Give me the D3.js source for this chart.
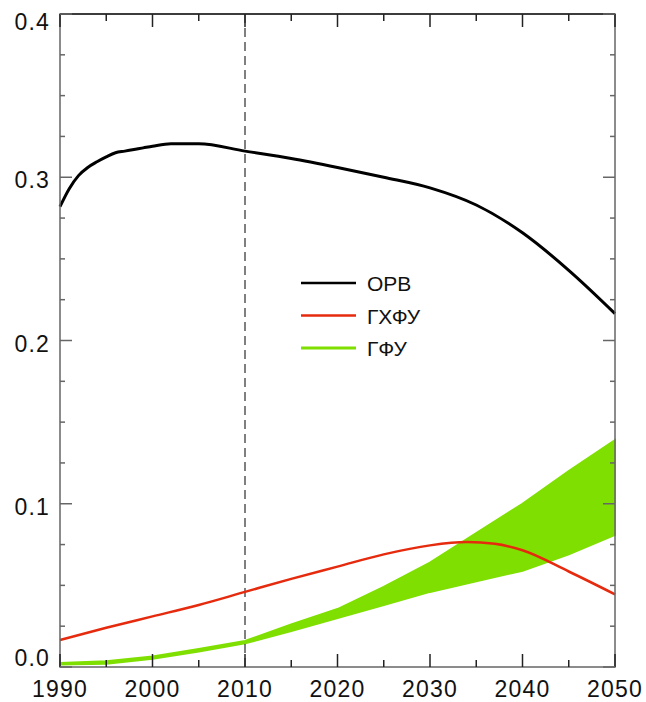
<!DOCTYPE html>
<html>
<head>
<meta charset="utf-8">
<script src="https://cdn.jsdelivr.net/npm/d3@7"></script>
<style>
  body { margin: 0; background: #fff; }
  text { font-family: "Liberation Sans", Arial, sans-serif; }
</style>
</head>
<body>
<svg id="chart" width="646" height="702"></svg>
<script>
// years + values
var orvYears = [1990, 1991, 1992, 1993, 1994, 1995, 1996, 1997, 1998, 1999, 2000, 2002, 2005, 2010, 2015, 2020, 2025, 2030, 2035, 2040, 2045, 2050];
var orvVals  = [0.282, 0.293, 0.301, 0.306, 0.3095, 0.3125, 0.315, 0.316, 0.317, 0.318, 0.319, 0.3205, 0.3205, 0.316, 0.3115, 0.306, 0.300, 0.2935, 0.283, 0.266, 0.243, 0.2165];

var hcfcYears = [1990, 1995, 2000, 2005, 2010, 2015, 2020, 2025, 2030, 2034, 2037, 2040, 2045, 2050];
var hcfcVals  = [0.0165, 0.024, 0.031, 0.038, 0.046, 0.054, 0.0615, 0.069, 0.0745, 0.0765, 0.0755, 0.0715, 0.0585, 0.0445];

var hfcYears = [1990, 1995, 2000, 2005, 2010, 2015, 2020, 2025, 2030, 2035, 2040, 2045, 2050];
var hfcLow   = [0.0015, 0.002, 0.005, 0.0095, 0.0145, 0.022, 0.030, 0.038, 0.046, 0.0525, 0.059, 0.069, 0.081];
var hfcHigh  = [0.0025, 0.0035, 0.0065, 0.011, 0.016, 0.026, 0.0355, 0.049, 0.064, 0.082, 0.100, 0.120, 0.139];

var xTicks = [1990, 2000, 2010, 2020, 2030, 2040, 2050];
var yTicks = [0.0, 0.1, 0.2, 0.3, 0.4];
var legendNames = ["ОРВ", "ГХФУ", "ГФУ"];
var colors = ["#000000", "#e62a0e", "#7fdf00"];

// plot box (note: "top" is reserved on window, so prefixed names)
var pLeft = 60, pRight = 615, pTop = 14, pBottom = 667;

var x = d3.scaleLinear().domain([1990, 2050]).range([pLeft, pRight]);
var y = d3.scaleLinear().domain([0, 0.4]).range([pBottom, pTop]);

var svg = d3.select("#chart");

// green band
var band = hfcYears.map(function(yr, i) { return { yr: yr, lo: hfcLow[i], hi: hfcHigh[i] }; });
svg.append("path")
  .datum(band)
  .attr("fill", colors[2])
  .attr("stroke", colors[2])
  .attr("stroke-width", 2)
  .attr("d", d3.area()
    .x(function(d) { return x(d.yr); })
    .y0(function(d) { return y(d.lo); })
    .y1(function(d) { return y(d.hi); }));

// dashed line at 2010
svg.append("line")
  .attr("x1", x(2010)).attr("x2", x(2010))
  .attr("y1", pTop).attr("y2", pBottom)
  .attr("stroke", "#000").attr("stroke-width", 1)
  .attr("stroke-dasharray", "9,5");

var line = d3.line()
  .x(function(d) { return x(d[0]); })
  .y(function(d) { return y(d[1]); })
  .curve(d3.curveMonotoneX);

svg.append("path")
  .datum(hcfcYears.map(function(yr, i) { return [yr, hcfcVals[i]]; }))
  .attr("fill", "none").attr("stroke", colors[1]).attr("stroke-width", 2.5)
  .attr("d", line);

svg.append("path")
  .datum(orvYears.map(function(yr, i) { return [yr, orvVals[i]]; }))
  .attr("fill", "none").attr("stroke", colors[0]).attr("stroke-width", 3)
  .attr("d", line);

// frame
var axisCol = "#666";
svg.append("rect")
  .attr("x", pLeft).attr("y", pTop)
  .attr("width", pRight - pLeft).attr("height", pBottom - pTop)
  .attr("fill", "none").attr("stroke", axisCol).attr("stroke-width", 1.5);
svg.append("line").attr("x1", pLeft).attr("x2", pRight).attr("y1", pTop).attr("y2", pTop)
  .attr("stroke", "#222").attr("stroke-width", 1.5);

// x ticks (major every 10, minor every 5), mirrored on top
d3.range(1990, 2051, 5).forEach(function(yr) {
  var len = (yr % 10 === 0) ? 13 : 7;
  svg.append("line").attr("x1", x(yr)).attr("x2", x(yr))
    .attr("y1", pBottom).attr("y2", pBottom - len)
    .attr("stroke", "#222").attr("stroke-width", 1.5);
  svg.append("line").attr("x1", x(yr)).attr("x2", x(yr))
    .attr("y1", pTop).attr("y2", pTop + len)
    .attr("stroke", "#222").attr("stroke-width", 1.5);
});

// y ticks (major every 0.1, minor every 0.025), mirrored on right
d3.range(0, 17).forEach(function(k) {
  var v = k * 0.025;
  var len = (k % 4 === 0) ? 12 : 5;
  svg.append("line").attr("x1", pLeft).attr("x2", pLeft + len)
    .attr("y1", y(v)).attr("y2", y(v))
    .attr("stroke", axisCol).attr("stroke-width", 1.5);
  svg.append("line").attr("x1", pRight).attr("x2", pRight - len)
    .attr("y1", y(v)).attr("y2", y(v))
    .attr("stroke", axisCol).attr("stroke-width", 1.5);
});

// labels
svg.selectAll(".xlab").data(xTicks).enter().append("text")
  .attr("x", function(d) { return x(d); })
  .attr("y", 697)
  .attr("text-anchor", "middle")
  .attr("font-size", 23).attr("letter-spacing", 1.2)
  .attr("fill", "#111")
  .text(function(d) { return d; });

svg.selectAll(".ylab").data(yTicks).enter().append("text")
  .attr("x", 50)
  .attr("y", function(d) { return Math.max(pTop + 16, Math.min(pBottom - 1, y(d) + 11)); })
  .attr("text-anchor", "end")
  .attr("font-size", 23).attr("letter-spacing", 1.2)
  .attr("fill", "#111")
  .text(function(d) { return d.toFixed(1); });

// legend
legendNames.forEach(function(name, i) {
  var ly = 283 + i * 32.5;
  svg.append("line").attr("x1", 301).attr("x2", 356)
    .attr("y1", ly).attr("y2", ly)
    .attr("stroke", colors[i]).attr("stroke-width", i === 2 ? 3 : 2.5);
  svg.append("text").attr("x", 367).attr("y", ly + 8)
    .attr("font-size", 21).attr("fill", "#111")
    .text(name);
});
</script>
</body>
</html>
